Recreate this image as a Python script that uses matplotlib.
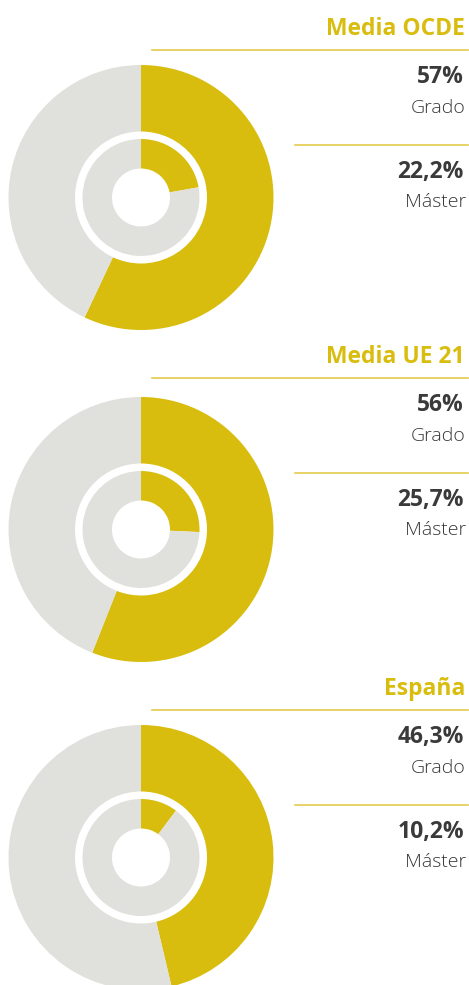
import matplotlib.pyplot as plt

# porcentaje de titulados por region (grado y master)
regiones = ["Media OCDE", "Media UE 21", "España"]
grado = [57, 56, 46.3]
master = [22.2, 25.7, 10.2]
grado_txt = ["57%", "56%", "46,3%"]
master_txt = ["22,2%", "25,7%", "10,2%"]

oro = "#D9BD0E"
gris = "#E0E0DC"
linea = "#E3CB4C"
oscuro = "#3A3A3A"

W, H = 469, 985
fig = plt.figure(figsize=(W / 100, H / 100), dpi=100)
ax = fig.add_axes([0, 0, 1, 1])

centros = [197.5, 529.5, 857.5]
titulos_y = [35, 363, 695]
cx = 141

for i in range(3):
    cy = H - centros[i]
    # anillo exterior: grado
    ax.pie([grado[i], 100 - grado[i]], colors=[oro, gris], radius=132.5,
           center=(cx, cy), startangle=90, counterclock=False,
           wedgeprops=dict(width=66.5, linewidth=0))
    # anillo interior: master
    ax.pie([master[i], 100 - master[i]], colors=[oro, gris], radius=58.5,
           center=(cx, cy), startangle=90, counterclock=False,
           wedgeprops=dict(width=29.5, linewidth=0))

    ty = titulos_y[i]
    ax.text(465, H - ty, regiones[i], ha="right", va="baseline",
            fontsize=16.5, fontweight="bold", color=oro, family="Open Sans")
    ax.plot([152, 468], [H - ty - 14.5] * 2, color=linea, lw=1.2)
    ax.text(464, H - ty - 48, grado_txt[i], ha="right", va="baseline",
            fontsize=16.5, fontweight="bold", color=oscuro, family="Open Sans")
    ax.text(466, H - ty - 78, "Grado", ha="right", va="baseline",
            fontsize=14, fontweight="light", color="#383838", family="Open Sans")
    ax.plot([295, 468], [H - ty - 110] * 2, color=linea, lw=1.2)
    ax.text(464, H - ty - 143, master_txt[i], ha="right", va="baseline",
            fontsize=16.5, fontweight="bold", color=oscuro, family="Open Sans")
    ax.text(466, H - ty - 172, "Máster", ha="right", va="baseline",
            fontsize=14, fontweight="light", color="#383838", family="Open Sans")

ax.set_xlim(0, W)
ax.set_ylim(0, H)
ax.set_aspect("auto")
ax.axis("off")

fig.savefig("out.png", dpi=100)
